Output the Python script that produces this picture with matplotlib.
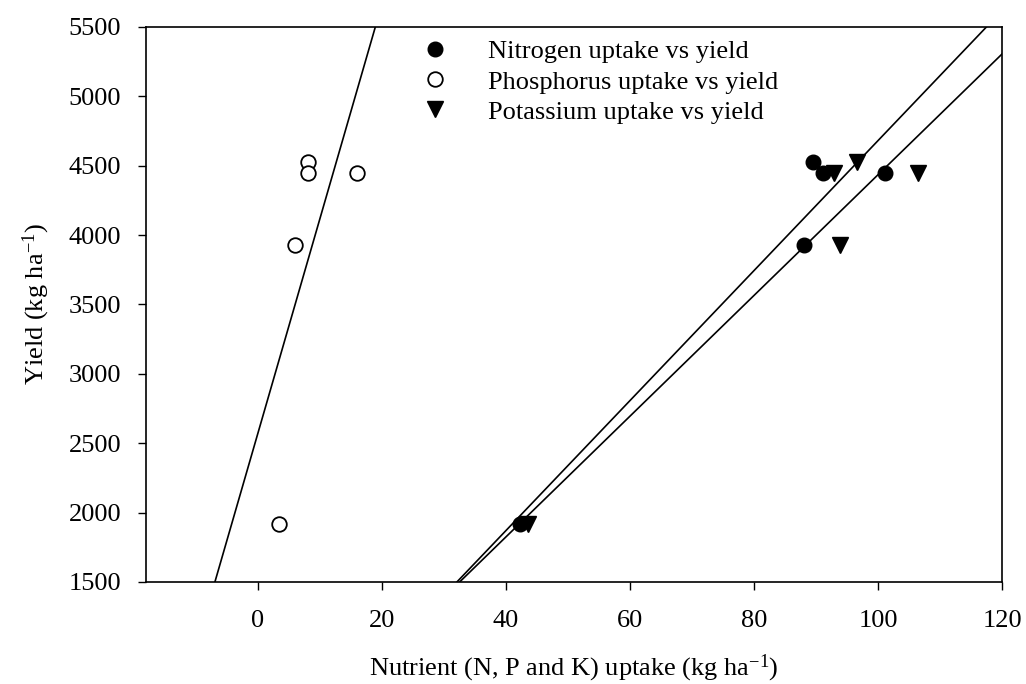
import numpy as np
import matplotlib
matplotlib.use("Agg")
import matplotlib.pyplot as plt

plt.rcParams['font.family'] = ['Liberation Serif', 'DejaVu Serif']
plt.rcParams['mathtext.fontset'] = 'custom'
plt.rcParams['mathtext.rm'] = 'Liberation Serif'
plt.rcParams['mathtext.it'] = 'Liberation Serif:italic'

# yield (kg/ha) for the five treatments and uptake of each nutrient
yield_vals = [1920, 3930, 4530, 4450, 4450]
n_uptake = [42.3, 88.0, 89.5, 91.1, 101.1]
p_uptake = [3.4, 6.1, 8.1, 8.1, 16.0]
k_uptake = [43.6, 93.9, 96.6, 92.9, 106.5]

xticks = [0, 20, 40, 60, 80, 100, 120]
yticks = [1500, 2000, 2500, 3000, 3500, 4000, 4500, 5000, 5500]

fig = plt.figure(figsize=(10.26, 6.84), dpi=100)
ax = fig.add_axes([146/1026, 1-582/684, (1002-146)/1026, (582-27)/684])

fs = 19
xlim = (-18, 120)

# regression lines
xx = np.array(xlim)
for u in (n_uptake, p_uptake, k_uptake):
    b, a = np.polyfit(u, yield_vals, 1)
    ax.plot(xx, a + b*xx, color="black", lw=1.2, zorder=1)

ax.plot(n_uptake, yield_vals, 'o', color="black", ms=10.5, ls='none',
        label="Nitrogen uptake vs yield", zorder=3)
ax.plot(p_uptake, yield_vals, 'o', mfc="white", mec="black", mew=1.3, ms=10.5, ls='none',
        label="Phosphorus uptake vs yield", zorder=3)
ax.plot(k_uptake, yield_vals, 'v', color="black", ms=11, ls='none',
        label="Potassium uptake vs yield", zorder=3)

ax.set_xlim(*xlim)
ax.set_ylim(1500, 5500)
ax.set_xticks(xticks)
ax.set_yticks(yticks)
ax.tick_params(axis='x', direction='out', length=6, width=1, labelsize=fs, pad=14, top=False)
ax.tick_params(axis='y', direction='out', length=6, width=1, labelsize=fs, pad=12, right=False)
for s in ax.spines.values():
    s.set_linewidth(1.2)

ax.set_xlabel(r"Nutrient (N, P and K) uptake (kg ha$^{-1}$)", fontsize=fs, labelpad=15)
ax.set_ylabel(r"Yield (kg ha$^{-1}$)", fontsize=fs, labelpad=12)

ax.legend(loc='upper left', bbox_to_anchor=(422/1026, 1-40/684), bbox_transform=fig.transFigure,
          frameon=False, fontsize=fs, handlelength=1.0, handletextpad=1.5,
          labelspacing=0.25, borderpad=0, borderaxespad=0)

fig.savefig("out.png", dpi=100)
